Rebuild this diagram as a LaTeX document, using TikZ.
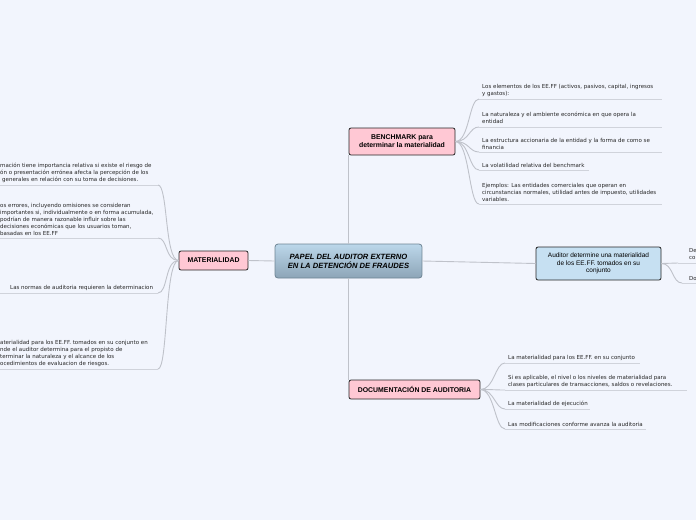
\documentclass[tikz,border=0pt]{standalone}
\usepackage{fontspec}
\setmainfont{Liberation Sans}
\newfontfamily\leaffont{DejaVu Sans}
\definecolor{bg}{HTML}{F2F5FD}
\definecolor{pinkf}{HTML}{FFC8D4}
\definecolor{bluef}{HTML}{C6E0F2}
\definecolor{linec}{HTML}{BFC2CA}
\definecolor{ulc}{HTML}{D0D3DB}
\definecolor{ctop}{HTML}{BCD7EA}
\definecolor{cbot}{HTML}{8DA5B7}
\definecolor{cbord}{HTML}{6E8494}
\begin{document}
\begin{tikzpicture}[x=1pt,y=-1pt,
  pinkbox/.style={draw=black!85, fill=pinkf, rounded corners=2pt, line width=0.8pt,
    font=\fontsize{6.9}{8.2}\selectfont\bfseries, align=center, inner sep=0pt},
  bluebox/.style={draw=black!85, fill=bluef, rounded corners=2pt, line width=0.8pt,
    font=\fontsize{6.5}{7.6}\selectfont, align=center, inner sep=0pt},
  centralbox/.style={draw=cbord, top color=ctop, bottom color=cbot, rounded corners=3pt, line width=0.8pt,
    font=\fontsize{7.6}{9}\selectfont\bfseries\itshape, align=center, inner sep=0pt},
  leaf/.style={font=\leaffont\fontsize{5.5}{7}\selectfont, align=left, inner sep=0pt, anchor=south west, text=black!85},
  conn/.style={draw=linec, line width=0.9pt},
  ul/.style={draw=ulc, line width=0.9pt}
]
\fill[bg] (0,0) rectangle (696,520);
\useasboundingbox (0,0) rectangle (696,520);

% main nodes
\node[centralbox, minimum width=147pt, minimum height=34pt] (central) at (348.5,261)
  {PAPEL DEL AUDITOR EXTERNO\\EN LA DETENCIÓN DE FRAUDES};
\node[pinkbox, minimum width=69pt, minimum height=19pt] (mat) at (213.5,260.5) {MATERIALIDAD};
\node[pinkbox, minimum width=106pt, minimum height=27pt] (bench) at (402,141.5)
  {BENCHMARK para\\determinar la materialidad};
\node[pinkbox, minimum width=131pt, minimum height=19pt] (doc) at (414.5,389.5)
  {DOCUMENTACIÓN DE AUDITORIA};
\node[bluebox, minimum width=125pt, minimum height=33pt] (aud) at (598.5,263.5)
  {Auditor determine una materialidad\\de los EE.FF. tomados en su\\conjunto};

% main connectors
\draw[conn] (central.west) -- (mat.east);
\draw[conn] (central.east) -- (aud.west);
\draw[conn] (central.north) -- (central.north |- bench.south);
\draw[conn] (central.south) -- (central.south |- doc.north);

% BENCHMARK leaves
\node[leaf] (b1) at (482,96.5) {Los elementos de los EE.FF (activos, pasivos, capital, ingresos\\y gastos):};
\node[leaf] (b2) at (482,123.5) {La naturaleza y el ambiente económica en que opera la\\entidad};
\node[leaf] (b3) at (482,149.5) {La estructura accionaria de la entidad y la forma de como se\\financia};
\node[leaf] (b4) at (482,168) {La volatilidad relativa del benchmark};
\node[leaf] (b5) at (482,201.5) {Ejemplos: Las entidades comerciales que operan en\\circunstancias normales, utilidad antes de impuesto, utilidades\\variables.};
\foreach \n/\y/\e in {b1/99/662, b2/127/662, b3/152/662, b4/170/589, b5/204/662}{
  \coordinate (\n s) at (479,\y);
  \coordinate (\n e) at (\e,\y);
  \draw[conn] (bench.east) .. controls +(14,0) and +(-10,0) .. (\n s);
  \draw[ul] (\n s) -- (\n e);
}

% DOCUMENTACION leaves
\node[leaf] (d1) at (508,360.5) {La materialidad para los EE.FF. en su conjunto};
\node[leaf] (d2) at (508,387.5) {Si es aplicable, el nivel o los niveles de materialidad para\\clases particulares de transacciones, saldos o revelaciones.};
\node[leaf] (d3) at (508,406.5) {La materialidad de ejecución};
\node[leaf] (d4) at (508,426.5) {Las modificaciones conforme avanza la auditoria};
\foreach \n/\y/\e in {d1/363/640, d2/390/687, d3/409/590, d4/429/646}{
  \coordinate (\n s) at (505,\y);
  \coordinate (\n e) at (\e,\y);
  \draw[conn] (doc.east) .. controls +(14,0) and +(-10,0) .. (\n s);
  \draw[ul] (\n s) -- (\n e);
}

% MATERIALIDAD leaves (cut at the left edge)
\node[leaf] (m1) at (0,182.5) {mación tiene importancia relativa si existe el riesgo de\\ón o presentación errónea afecta la percepción de los\\\hspace*{2pt}generales en relación con su toma de decisiones.};
\node[leaf] (m2) at (0,235.5) {os errores, incluyendo omisiones se consideran\\importantes si, individualmente o en forma acumulada,\\podrían de manera razonable influir sobre las\\decisiones económicas que los usuarios toman,\\basadas en los EE.FF};
\node[leaf] (m3) at (10,290.5) {Las normas de auditoria requieren la determinacion};
\node[leaf] (m4) at (0,366.5) {aterialidad para los EE.FF. tomados en su conjunto en\\nde el auditor determina para el propisto de\\terminar la naturaleza y el alcance de los\\ocedimientos de evaluacion de riesgos.};
\foreach \n/\y in {m1/185, m2/238, m3/293, m4/369}{
  \coordinate (\n s) at (158,\y);
  \coordinate (\n e) at (0,\y);
  \draw[conn] (mat.west) .. controls +(-14,0) and +(10,0) .. (\n s);
  \draw[ul] (\n s) -- (\n e);
}

% Auditor leaves (cut at the right edge)
\node[leaf] (a1) at (689,260) {De\\co};
\node[leaf] (a2) at (689,280.5) {Do};
\coordinate (a1s) at (678,263);
\coordinate (a1e) at (696,263);
\coordinate (a2s) at (682,283);
\coordinate (a2e) at (696,283);
\draw[conn] (aud.east) .. controls +(8,0) and +(-8,0) .. (a1s);
\draw[conn] (aud.east) .. controls +(12,0) and +(-10,0) .. (a2s);
\draw[ul] (a1s) -- (a1e);
\draw[ul] (a2s) -- (a2e);
\end{tikzpicture}
\end{document}
